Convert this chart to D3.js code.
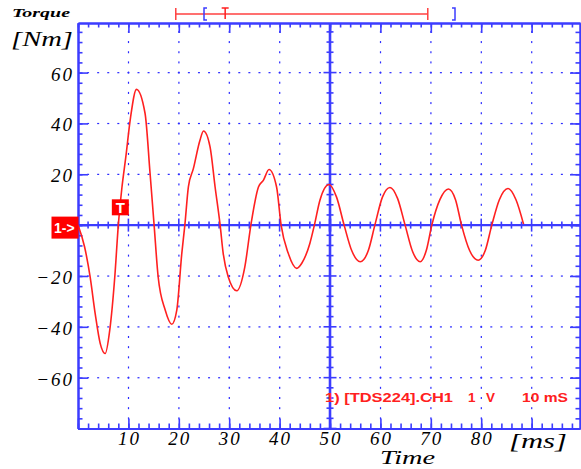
<!DOCTYPE html>
<html>
<head>
<meta charset="utf-8">
<script src="https://cdn.jsdelivr.net/npm/d3@7"></script>
<style>
body { margin: 0; background: #fff; }
svg { display: block; }
</style>
</head>
<body>
<svg id="chart" width="581" height="469"></svg>
<script>
// torque trace (ms, Nm)
var timeMs = [0, 1.3, 2.4, 3.4, 4.4, 5.4, 6.3, 7.3, 8.0, 8.7, 9.5, 10.4, 11.6, 13.3, 14.3, 15.1,
    15.9, 17.3, 18.6, 19.6, 20.6, 21.2, 21.9, 22.9, 24.2, 24.9, 26.2, 27.2, 28.2, 28.8, 29.8,
    31.5, 33.1, 34.3, 35.8, 36.8, 37.9, 39.4, 40.3, 41.7, 43.4, 44.4, 46.0, 46.9, 48.0, 49.8,
    51.3, 52.8, 54.3, 56.0, 57.6, 58.9, 60.4, 61.9, 63.4, 64.9, 66.4, 67.9, 69.1, 70.2, 71.8,
    73.5, 74.9, 76.1, 77.7, 79.4, 80.8, 82.1, 83.6, 85.3, 86.9, 88.4];
var torqueNm = [0, -8.5, -20.3, -34.7, -46.5, -50.5, -41.3, -20.3, 0, 14.5, 27, 42, 53.4, 44, 20.3, 0,
    -20.3, -33.4, -39, -33.4, -11, 0, 15, 22.3, 33.4, 37, 30.8, 15, 0, -11, -20.3,
    -25.8, -16.4, 0, 15, 17.7, 21.9, 15, 0, -11, -17, -15, -7.2, 0, 9.8, 16,
    11, 0, -10, -14.4, -10, 0, 11, 14.8, 10.5, 0, -10.5, -14.4, -10, 0, 10,
    14.2, 10, 0, -10, -13.8, -10, 0, 10, 14.4, 10, 0.4];

var xTickLabels = [10, 20, 30, 40, 50, 60, 70, 80];
var yTickLabels = [60, 40, 20, -20, -40, -60];
var xGridLines = [10, 20, 30, 40, 60, 70, 80, 90];
var yGridLines = [-60, -40, -20, 20, 40, 60];

// trigger marks (ms)
var triggerBar = [19.4, 69.4];
var triggerBrackets = [25, 74.8];
var triggerT = 29.2;
var triggerMark = {t: 8.3, v: 7};

var blue = "#3c3cff", red = "#ff2020";

var svg = d3.select("#chart");

var x = d3.scaleLinear().domain([0, 99.6]).range([78, 580]);
var y = d3.scaleLinear().domain([-80, 79.5]).range([428.5, 23]);

var minorX = d3.range(0, 100, 2), majorX = d3.range(0, 100, 10);
var minorY = d3.range(-80, 80, 4), majorY = d3.range(-80, 80, 20);

// dotted grid
var grid = svg.append("g").attr("fill", "#2a2aff");
xGridLines.forEach(function(xv){
    grid.selectAll(null).data(minorY.filter(function(v){ return v > -80; }))
        .enter().append("rect")
        .attr("x", x(xv) - 0.5).attr("y", function(d){ return y(d) - 1; })
        .attr("width", 1.2).attr("height", 2);
});
yGridLines.forEach(function(yv){
    grid.selectAll(null).data(minorX.filter(function(v){ return v > 0; }))
        .enter().append("rect")
        .attr("x", function(d){ return x(d) - 1; }).attr("y", y(yv) - 0.5)
        .attr("width", 2).attr("height", 1.2);
});

// frame axes, ticks pointing inside
function frame(axisFn, tr, values, size){
    var g = svg.append("g").attr("transform", tr)
        .call(axisFn.tickValues(values).tickSize(size).tickSizeOuter(0).tickFormat(""));
    g.selectAll(".domain").attr("stroke", blue).attr("stroke-width", 2);
    g.selectAll(".tick line").attr("stroke", blue).attr("stroke-width", 1.6);
    return g;
}
frame(d3.axisRight(y), "translate(78,0)", minorY, 4.5);
frame(d3.axisRight(y), "translate(78,0)", majorY, 10);
frame(d3.axisLeft(y), "translate(580,0)", minorY, 4.5);
frame(d3.axisLeft(y), "translate(580,0)", majorY, 10);
frame(d3.axisBottom(x), "translate(0,23)", minorX, 4.5);
frame(d3.axisBottom(x), "translate(0,23)", majorX, 10);
frame(d3.axisTop(x), "translate(0,428.5)", minorX, 5);
frame(d3.axisTop(x), "translate(0,428.5)", majorX, 10);

// center cross lines
var cross = svg.append("g").attr("stroke", blue);
cross.append("line").attr("x1", x(0)).attr("x2", x(99.6)).attr("y1", y(0)).attr("y2", y(0)).attr("stroke-width", 2.2);
cross.append("line").attr("x1", x(50)).attr("x2", x(50)).attr("y1", y(79.5)).attr("y2", y(-80)).attr("stroke-width", 2.6);
cross.selectAll(null).data(minorX).enter().append("line")
    .attr("x1", function(d){ return x(d); }).attr("x2", function(d){ return x(d); })
    .attr("y1", function(d){ return y(0) - (d % 10 === 0 ? 6.5 : 3.5); })
    .attr("y2", function(d){ return y(0) + (d % 10 === 0 ? 6.5 : 3.5); })
    .attr("stroke-width", function(d){ return d === 50 ? 2.6 : 1.6; });
cross.selectAll(null).data(minorY).enter().append("line")
    .attr("y1", function(d){ return y(d); }).attr("y2", function(d){ return y(d); })
    .attr("x1", function(d){ return x(50) - (d % 20 === 0 ? 6.5 : 3.5); })
    .attr("x2", function(d){ return x(50) + (d % 20 === 0 ? 6.5 : 3.5); })
    .attr("stroke-width", 1.6);

// trace
var pts = timeMs.map(function(t, i){ return [t, torqueNm[i]]; });
svg.append("path").datum(pts)
    .attr("fill", "none").attr("stroke", red).attr("stroke-width", 1.6)
    .attr("d", d3.line().x(function(d){ return x(d[0]); }).y(function(d){ return y(d[1]); })
        .curve(d3.curveMonotoneX));

// tick labels
var lblFont = "Liberation Serif, DejaVu Serif, serif";
svg.selectAll(".ylab").data(yTickLabels).enter().append("text")
    .attr("x", 74).attr("y", function(d){ return y(d) + 8; })
    .attr("text-anchor", "end").attr("font-family", lblFont).attr("font-style", "italic")
    .attr("font-size", 19).attr("letter-spacing", 2)
    .text(function(d){ return d < 0 ? "\u2212" + (-d) : d; });
svg.selectAll(".xlab").data(xTickLabels).enter().append("text")
    .attr("x", function(d){ return x(d) + 1; }).attr("y", 445)
    .attr("text-anchor", "middle").attr("font-family", lblFont).attr("font-style", "italic")
    .attr("font-size", 19).attr("letter-spacing", 2)
    .text(function(d){ return d; });

// axis titles
svg.append("text").attr("x", 12).attr("y", 17).attr("font-family", lblFont)
    .attr("font-style", "italic").attr("font-weight", "bold").attr("font-size", 12)
    .attr("textLength", 58).attr("lengthAdjust", "spacingAndGlyphs").text("Torque");
svg.append("text").attr("x", 11).attr("y", 46).attr("font-family", lblFont)
    .attr("font-style", "italic").attr("font-size", 21)
    .attr("textLength", 62).attr("lengthAdjust", "spacingAndGlyphs").text("[Nm]");
svg.append("text").attr("x", 509).attr("y", 448).attr("font-family", lblFont)
    .attr("font-style", "italic").attr("font-size", 21)
    .attr("textLength", 58).attr("lengthAdjust", "spacingAndGlyphs").text("[ms]");
svg.append("text").attr("x", 380).attr("y", 464).attr("font-family", lblFont)
    .attr("font-style", "italic").attr("font-size", 19)
    .attr("textLength", 55).attr("lengthAdjust", "spacingAndGlyphs").text("Time");

// channel info
var info = svg.append("g").attr("fill", red).attr("font-family", "Liberation Sans, Arial, sans-serif")
    .attr("font-weight", "bold").attr("font-size", 13.5);
info.append("text").attr("x", 325).attr("y", 401.5).attr("textLength", 128)
    .attr("lengthAdjust", "spacingAndGlyphs").text("1) [TDS224].CH1");
info.append("text").attr("x", 468).attr("y", 401.5).text("1");
info.append("text").attr("x", 486).attr("y", 401.5).text("V");
info.append("text").attr("x", 522).attr("y", 401.5).attr("textLength", 46)
    .attr("lengthAdjust", "spacingAndGlyphs").text("10 mS");

// channel marker + trigger marker
svg.append("rect").attr("x", 51.5).attr("y", y(0) - 8.5).attr("width", 27).attr("height", 22).attr("fill", "#ff0000");
svg.append("text").attr("x", 54).attr("y", y(0) + 8).attr("fill", "#fff")
    .attr("font-family", "Liberation Sans, Arial, sans-serif").attr("font-weight", "bold")
    .attr("font-size", 14).text("1->");
svg.append("rect").attr("x", x(triggerMark.t) - 8).attr("y", y(triggerMark.v) - 8)
    .attr("width", 17).attr("height", 16).attr("fill", "#ff0000");
svg.append("text").attr("x", x(triggerMark.t) + 0.5).attr("y", y(triggerMark.v) + 5.5).attr("fill", "#fff")
    .attr("text-anchor", "middle").attr("font-family", "Liberation Sans, Arial, sans-serif")
    .attr("font-weight", "bold").attr("font-size", 15).text("T");

// top trigger bar
var topBar = svg.append("g").attr("fill", "none").attr("stroke-width", 1.5);
topBar.append("line").attr("x1", x(triggerBar[0])).attr("x2", x(triggerBar[1]))
    .attr("y1", 14).attr("y2", 14).attr("stroke", "#ff4040");
triggerBar.forEach(function(t){
    topBar.append("line").attr("x1", x(t)).attr("x2", x(t)).attr("y1", 8).attr("y2", 20).attr("stroke", "#ff4040");
});
topBar.append("path").attr("stroke", blue)
    .attr("d", "M" + (x(triggerBrackets[0]) + 3) + ",8H" + x(triggerBrackets[0]) + "V20H" + (x(triggerBrackets[0]) + 3));
topBar.append("path").attr("stroke", blue)
    .attr("d", "M" + (x(triggerBrackets[1]) - 3) + ",8H" + x(triggerBrackets[1]) + "V20H" + (x(triggerBrackets[1]) - 3));
topBar.append("path").attr("stroke", "#ff2020")
    .attr("d", "M" + (x(triggerT) - 3.5) + ",8H" + (x(triggerT) + 3.5) + "M" + x(triggerT) + ",8V19");
</script>
</body>
</html>
